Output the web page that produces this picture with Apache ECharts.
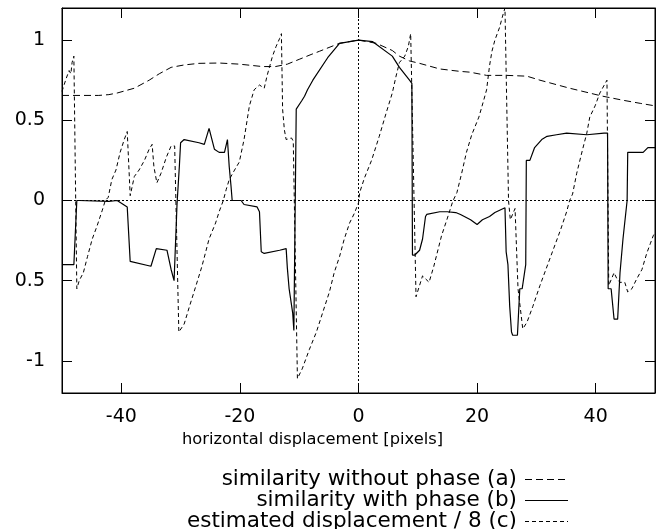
<!DOCTYPE html>
<html><head><meta charset="utf-8">
<script src="https://cdn.jsdelivr.net/npm/echarts@6/dist/echarts.min.js"></script>
<style>html,body{margin:0;padding:0;background:#fff}#c{width:661px;height:529px}</style>
</head><body><div id="c"></div>
<script>
// ---- data ----
var xTicks = [-40, -20, 0, 20, 40];
var xTickLabels = ['-40', '-20', '0', '20', '40'];
var yTicks = [-1, -0.5, 0, 0.5, 1];
var yTickLabels = ['-1', '0.5', '0', '0.5', '1'];
var seriesNames = ['similarity without phase (a)', 'similarity with phase (b)', 'estimated displacement / 8 (c)'];

var xA = [-50,-43.8,-42.1,-40.7,-37.8,-35.3,-33.6,-31.6,-29.4,-26.9,-23.5,-20.1,-16.2,-14.0,-12.0,-10.0,-8.0,-6.6,-3.2,0,3.0,5.7,6.9,8.6,10.3,13.7,17.1,18.8,21.6,25.0,28.4,30.6,35.6,41.2,44.6,47.6,50];
var yA = [0.655,0.655,0.66,0.67,0.70,0.75,0.79,0.83,0.845,0.855,0.857,0.85,0.835,0.835,0.85,0.88,0.91,0.93,0.98,1.0,0.98,0.935,0.90,0.87,0.855,0.82,0.805,0.80,0.78,0.78,0.775,0.75,0.70,0.65,0.625,0.605,0.59];

var xB = [-50,-48.0,-47.8,-47.5,-47.1,-42.1,-40.7,-39.0,-38.5,-35.0,-34.1,-32.3,-31.6,-31.1,-30.6,-30.2,-30.0,-29.4,-26.9,-26.0,-25.2,-24.3,-23.5,-22.6,-22.1,-21.8,-21.5,-21.3,-19.8,-19.3,-17.1,-16.7,-16.4,-15.9,-13.3,-12.2,-12.0,-11.7,-11.1,-10.9,-10.6,-10.5,-10.3,-9.6,-9.1,-8.6,-7.7,-7.4,-5.2,-3.2,0,2.4,5.7,6.9,8.6,9.0,9.1,9.5,10.3,10.8,11.3,11.5,13.7,15.0,16.4,17.2,18.9,20.0,20.9,22.1,23.0,24.7,24.9,25.2,25.5,25.8,26.0,26.8,27.2,27.6,28.2,28.3,28.9,29.7,30.9,31.8,33.4,35.1,38.5,41.4,42.0,42.1,42.6,43.1,43.7,44.1,44.6,45.3,45.4,47.1,48.0,48.8,50];
var yB = [-0.40,-0.40,-0.24,0.0,0.0,-0.005,0.0,-0.04,-0.38,-0.41,-0.30,-0.31,-0.43,-0.50,-0.02,0.22,0.36,0.38,0.36,0.35,0.45,0.32,0.30,0.30,0.38,0.21,0.09,0.0,0.0,-0.025,-0.04,-0.07,-0.32,-0.33,-0.31,-0.30,-0.42,-0.55,-0.70,-0.81,-0.81,0.57,0.58,0.62,0.65,0.69,0.75,0.76,0.89,0.98,1.0,0.99,0.90,0.83,0.75,0.73,-0.34,-0.34,-0.31,-0.24,-0.10,-0.087,-0.07,-0.07,-0.075,-0.087,-0.12,-0.15,-0.12,-0.10,-0.075,-0.045,-0.32,-0.40,-0.66,-0.82,-0.84,-0.84,-0.55,-0.55,-0.40,0.25,0.25,0.33,0.38,0.40,0.41,0.42,0.41,0.42,0.42,-0.55,-0.55,-0.74,-0.74,-0.45,-0.24,0.0,0.30,0.30,0.30,0.33,0.33];

var xC = [-50,-49.3,-48.8,-48.5,-48.3,-48.0,-47.5,-47.1,-46.4,-45.7,-44.9,-44.1,-43.2,-42.7,-42.2,-41.6,-40.9,-40.2,-39.5,-39.0,-38.7,-38.5,-37.8,-37.0,-36.1,-35.3,-34.8,-34.5,-34.0,-33.3,-32.4,-31.6,-31.0,-30.3,-29.4,-28.5,-27.4,-26.4,-25.2,-24.1,-23.5,-22.8,-22.3,-21.8,-20.9,-20.1,-19.3,-18.4,-17.6,-16.7,-15.9,-15.4,-14.5,-13.9,-13.3,-13.0,-12.8,-12.5,-12.2,-11.3,-11.0,-10.3,-9.5,-8.3,-7.1,-5.7,-4.9,-4.1,-3.2,-2.4,-1.5,-0.7,0,0.2,1.0,2.2,3.5,4.7,5.7,6.3,6.9,7.8,8.4,8.8,9.0,9.7,10.8,11.9,12.7,14.0,14.9,15.9,16.6,17.4,18.2,19.1,20.3,21.0,21.6,22.1,22.5,23.0,23.8,24.3,24.7,25.3,25.6,26.4,26.9,27.7,28.4,29.4,30.6,32.0,32.9,34.1,35.1,35.6,36.1,36.8,37.8,38.5,39.0,39.9,40.7,41.6,41.9,42.2,43.1,43.6,44.1,44.9,45.4,46.1,46.9,47.8,48.6,49.2,49.7,50];
var yC = [0.68,0.76,0.81,0.79,0.86,0.90,-0.55,-0.50,-0.45,-0.35,-0.24,-0.16,-0.06,0.0,0.02,0.13,0.19,0.30,0.38,0.43,0.42,0.03,0.15,0.19,0.25,0.32,0.35,0.21,0.11,0.17,0.27,0.34,0.34,-0.82,-0.77,-0.66,-0.53,-0.41,-0.24,-0.14,-0.07,0.0,0.07,0.13,0.19,0.24,0.38,0.59,0.69,0.72,0.70,0.78,0.90,0.96,1.01,1.04,0.57,0.44,0.38,0.39,0.37,-1.11,-1.05,-0.93,-0.82,-0.66,-0.57,-0.45,-0.35,-0.24,-0.14,-0.08,-0.015,0.05,0.14,0.25,0.40,0.55,0.67,0.77,0.86,0.90,0.96,1.04,1.05,-0.60,-0.47,-0.51,-0.41,-0.22,-0.12,-0.005,0.05,0.17,0.30,0.41,0.52,0.61,0.69,0.84,0.93,1.0,1.08,1.15,1.2,0.0,-0.12,-0.05,-0.55,-0.80,-0.76,-0.66,-0.53,-0.39,-0.30,-0.18,-0.07,0.0,0.04,0.17,0.32,0.42,0.52,0.59,0.67,0.73,0.75,-0.53,-0.45,-0.49,-0.51,-0.51,-0.57,-0.55,-0.49,-0.43,-0.33,-0.27,-0.22,-0.20];

function pairs(xs, ys) { return xs.map(function (x, i) { return [x, ys[i]]; }); }

var FONT = 'DejaVu Sans';
var DASH_A = [7, 4], DASH_C = [4, 3];
var chart = echarts.init(document.getElementById('c'), null, {renderer: 'canvas'});
var tickCommon = {show: true, inside: true, length: 10, lineStyle: {color: '#000', width: 1}};

// legend drawn as text + line samples (right-aligned text like the original)
var legendStyles = [{type: DASH_A, w: 1}, {type: 'solid', w: 1.2}, {type: DASH_C, w: 1}];
var legendGraphics = [];
seriesNames.forEach(function (nm, i) {
  var yy = 479 + i * 21;
  legendGraphics.push({type: 'text', x: 517, y: yy, style: {text: nm, fill: '#000', font: '21.5px "DejaVu Sans"', textAlign: 'right', textVerticalAlign: 'middle'}});
  legendGraphics.push({type: 'line', shape: {x1: 525, y1: yy + 0.5, x2: 568, y2: yy + 0.5},
    style: {stroke: '#000', lineWidth: legendStyles[i].w, lineDash: legendStyles[i].type === 'solid' ? null : legendStyles[i].type}});
});

var option = {
  animation: false,
  backgroundColor: '#fff',
  grid: {left: 62, right: 6, top: 8, bottom: 136, show: true, borderColor: '#000', borderWidth: 1, containLabel: false, outerBoundsMode: 'none'},
  xAxis: [{
    type: 'value', min: -50, max: 50, position: 'bottom',
    axisLine: {show: true, onZero: false, lineStyle: {color: '#000', width: 1}},
    axisTick: Object.assign({customValues: xTicks}, tickCommon),
    axisLabel: {customValues: xTicks, margin: 15, color: '#000', fontFamily: FONT, fontSize: 19,
      formatter: function (v) { var i = xTicks.indexOf(v); return i >= 0 ? xTickLabels[i] : ''; }},
    splitLine: {show: false},
    name: 'horizontal displacement [pixels]', nameLocation: 'middle', nameGap: 33,
    nameTextStyle: {color: '#000', fontFamily: FONT, fontSize: 16.3, padding: [0, 92, 0, 0]}
  }, {
    type: 'value', min: -50, max: 50, position: 'top',
    axisLine: {show: true, onZero: false, lineStyle: {color: '#000', width: 1}},
    axisTick: Object.assign({customValues: xTicks}, tickCommon),
    axisLabel: {show: false}, splitLine: {show: false}
  }],
  yAxis: [{
    type: 'value', min: -1.2, max: 1.2, position: 'left',
    axisLine: {show: true, onZero: false, lineStyle: {color: '#000', width: 1}},
    axisTick: Object.assign({customValues: yTicks}, tickCommon),
    axisLabel: {customValues: yTicks, margin: 17, color: '#000', fontFamily: FONT, fontSize: 19,
      formatter: function (v) { var i = yTicks.indexOf(v); return i >= 0 ? yTickLabels[i] : ''; }},
    splitLine: {show: false}
  }, {
    type: 'value', min: -1.2, max: 1.2, position: 'right',
    axisLine: {show: true, onZero: false, lineStyle: {color: '#000', width: 1}},
    axisTick: Object.assign({customValues: yTicks}, tickCommon),
    axisLabel: {show: false}, splitLine: {show: false}
  }],
  graphic: legendGraphics,
  series: [{
    name: seriesNames[0], type: 'line', symbol: 'none', showSymbol: false,
    data: pairs(xA, yA), lineStyle: {color: '#000', width: 1, type: DASH_A},
    itemStyle: {color: '#000'},
    markLine: {silent: true, symbol: ['none', 'none'], label: {show: false},
      lineStyle: {color: '#000', width: 1, type: [2, 2]},
      data: [{yAxis: 0}, {xAxis: 0}]}
  }, {
    name: seriesNames[1], type: 'line', symbol: 'none', showSymbol: false,
    data: pairs(xB, yB), lineStyle: {color: '#000', width: 1.2, type: 'solid'},
    itemStyle: {color: '#000'}
  }, {
    name: seriesNames[2], type: 'line', symbol: 'none', showSymbol: false,
    data: pairs(xC, yC), lineStyle: {color: '#000', width: 1, type: DASH_C},
    itemStyle: {color: '#000'}
  }]
};
chart.setOption(option);
</script></body></html>
